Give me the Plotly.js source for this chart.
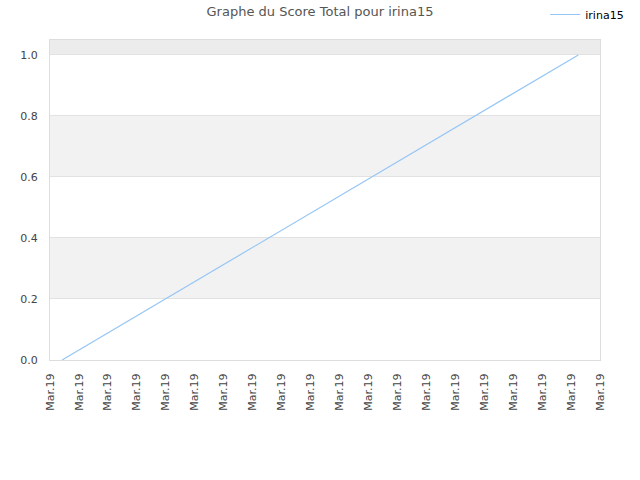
<!DOCTYPE html>
<html>
<head>
<meta charset="utf-8">
<script src="https://cdn.plot.ly/plotly-3.0.1.min.js"></script>
<style>
  html, body { margin: 0; padding: 0; background: #fff; }
  #chart { width: 640px; height: 480px; }
</style>
</head>
<body>
<div id="chart"></div>
<script>
// Score data (one run during March 2019)
var playerName = 'irina15';
var scoreTimes = ['2019-03-10 00:25', '2019-03-10 18:15'];
var scoreValues = [0, 1];

// axis ticks: every label reads "Mar.19"
var tickStart = '2019-03-10 00:00';
var tickEnd = '2019-03-10 19:00';

// alternating horizontal bands
var bandRanges = [[0.2, 0.4], [0.6, 0.8]];
var topBand = [1.0, 1.049];

document.addEventListener("DOMContentLoaded", function () {

    if (typeof Plotly === "undefined") {
        console.error("Plotly.js is not loaded.");
        return;
    }

    var shapes = bandRanges.map(function (b) {
        return {
            type: 'rect', xref: 'paper', yref: 'y', layer: 'below',
            x0: 0, x1: 1, y0: b[0], y1: b[1],
            fillcolor: '#f2f2f2', line: { width: 0 }
        };
    });
    shapes.push({
        type: 'rect', xref: 'paper', yref: 'y', layer: 'below',
        x0: 0, x1: 1, y0: topBand[0], y1: topBand[1],
        fillcolor: '#ececec', line: { width: 0 }
    });

    Plotly.newPlot("chart", [{
        x: scoreTimes,
        y: scoreValues,
        type: 'scatter',
        mode: 'lines',
        name: playerName,
        line: { color: '#96c6f5', width: 1.2 }
    }], {
        width: 640,
        height: 480,
        font: { family: 'DejaVu Sans', size: 11, color: '#444' },
        title: {
            text: 'Graphe du Score Total pour ' + playerName,
            font: { family: 'DejaVu Sans', size: 13, color: '#555' },
            x: 0.5, xanchor: 'center', y: 0.977, yanchor: 'middle'
        },
        showlegend: true,
        legend: {
            xref: 'container', yref: 'container',
            x: 0.852, y: 1.0, xanchor: 'left', yanchor: 'top',
            font: { family: 'DejaVu Sans', size: 11, color: '#000' },
            bgcolor: 'rgba(0,0,0,0)'
        },
        margin: { l: 50, r: 40, t: 40, b: 120, autoexpand: false },
        plot_bgcolor: '#ffffff',
        paper_bgcolor: '#ffffff',
        shapes: shapes,
        xaxis: {
            type: 'date',
            range: [tickStart, tickEnd],
            tick0: tickStart,
            dtick: 3600000,
            tickformat: '%b.%y',
            tickangle: -90,
            showgrid: false,
            showline: true,
            linecolor: '#dddddd',
            mirror: true,
            ticks: 'outside',
            ticklen: 8,
            tickcolor: 'rgba(0,0,0,0)',
            tickfont: { size: 11, color: '#444' },
            zeroline: false
        },
        yaxis: {
            range: [0, topBand[1]],
            tick0: 0,
            dtick: 0.2,
            tickformat: '.1f',
            showgrid: true,
            gridcolor: '#e2e2e2',
            showline: true,
            linecolor: '#dddddd',
            mirror: true,
            ticks: 'outside',
            ticklen: 9,
            tickcolor: 'rgba(0,0,0,0)',
            tickfont: { size: 11, color: '#444' },
            zeroline: false
        }
    }, { displayModeBar: false, staticPlot: true });
});
</script>
</body>
</html>
